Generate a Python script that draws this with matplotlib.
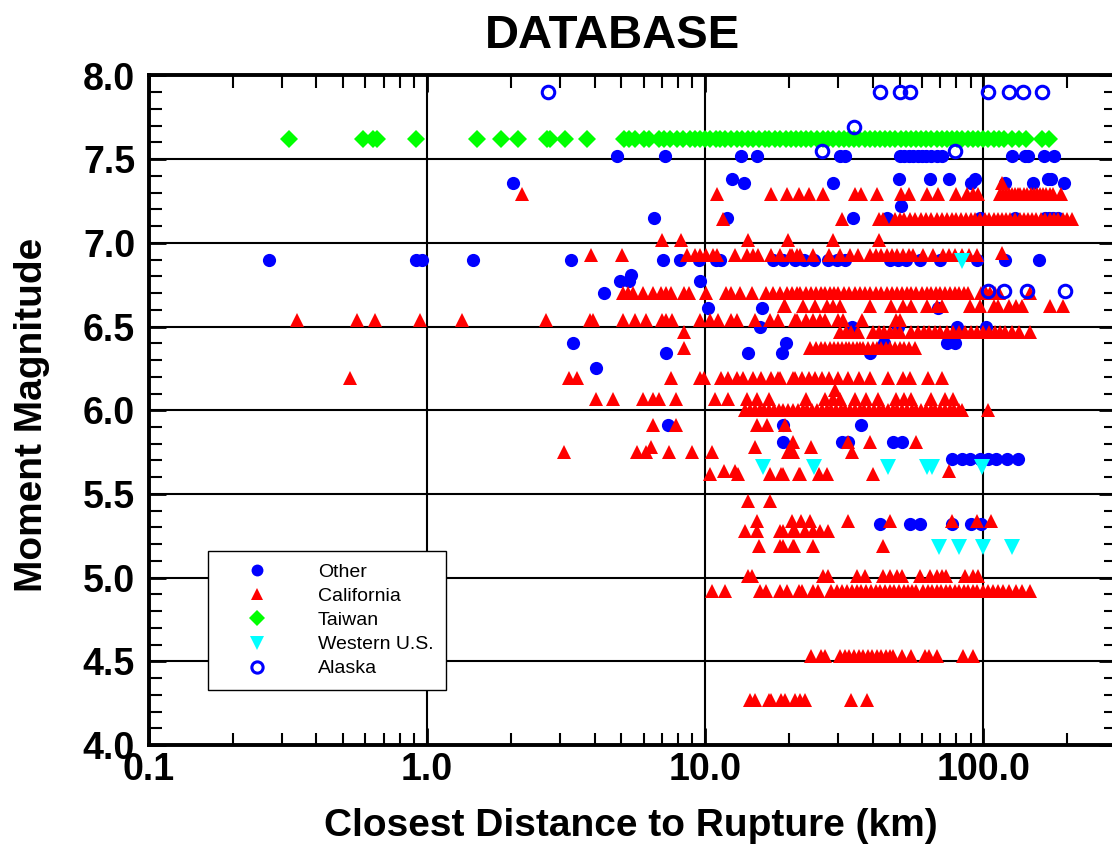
import matplotlib
matplotlib.use("Agg")
import matplotlib.pyplot as plt
from matplotlib.ticker import FixedLocator, FormatStrFormatter, MultipleLocator, LogLocator, NullFormatter

plt.rcParams['font.family'] = ['Liberation Sans', 'DejaVu Sans']

# ---- data (distance km, moment magnitude) ----
# Other
other_mags = [7.52, 7.38, 7.36, 7.22, 7.15, 6.90, 6.81, 6.77, 6.70, 6.61, 6.50, 6.40, 6.34, 6.25, 5.91, 5.81, 5.71, 5.32]
o_752 = [4.81, 7.18, 13.4, 15.3, 30.6, 31.9, 50, 52, 54, 56, 58, 60, 62, 65, 68, 71, 127, 141, 145, 165, 180]
o_738 = [12.5, 49.9, 64.2, 75.1, 93.6, 171, 175]
o_736 = [2.03, 13.8, 28.7, 90.5, 120, 150.6, 195]
o_722 = [50.6]
o_715 = [6.54, 12.0, 34.0, 45.1, 97.6, 130, 166, 172, 178, 185]
o_690 = [0.27, 0.91, 0.96, 1.46, 3.3, 7.05, 8.13, 9.46, 10.9, 11.3, 17.6, 19.1, 21.1, 22.6,
         24.7, 27.7, 29.8, 31.8, 46.2, 49.4, 52.8, 59.0, 70.0, 95.0, 120, 158]
o_681 = [5.43]
o_677 = [4.92, 5.3, 9.55]
o_670 = [4.34]
o_661 = [10.2, 16.0, 68.6]
o_650 = [15.7, 33.7, 49.4, 80.4, 102]
o_640 = [3.35, 19.5, 44.1, 73.8, 79.1]
o_634 = [7.24, 14.3, 18.9, 39.2]
o_625 = [4.04]
o_591 = [7.34, 19.1, 36.4]
o_581 = [19.0, 31.0, 32.7, 47.5, 51.1]
o_571 = [77.1, 83.5, 89.5, 97.6, 104, 111.4, 122, 133]
o_532 = [42.6, 54.6, 59.1, 77.1, 90.5, 98]
other_rows = [o_752, o_738, o_736, o_722, o_715, o_690, o_681, o_677, o_670, o_661,
              o_650, o_640, o_634, o_625, o_591, o_581, o_571, o_532]

# California
cal_mags = [7.36, 7.29, 7.14, 7.02, 6.94, 6.93, 6.70, 6.62, 6.54, 6.47, 6.37, 6.19, 6.12, 6.07,
            6.00, 5.91, 5.81, 5.78, 5.75, 5.64, 5.62, 5.46, 5.34, 5.28, 5.19, 5.01, 4.92, 4.53, 4.27]
c_736 = [117]
c_729 = [2.19, 11.0, 17.2, 19.7, 21.7, 23.7, 26.5, 34.5, 36.4, 41.3, 50.6, 54.1, 62.8, 68.8, 79.8,
         87.2, 92.1, 96.0, 115, 118, 121, 124, 127, 130, 133, 136, 140, 144, 148, 152, 156, 160,
         164, 168, 173, 178, 190]
c_714 = [11.6, 31.1, 42.1, 43.5, 48.1, 50, 52, 54.5, 57, 59.5, 62, 65, 68, 71, 74, 77, 80, 83,
         86.5, 90, 93.5, 97, 101, 105, 109, 113, 117, 121, 125, 130, 135, 140, 145, 150, 155, 161,
         167, 173, 179, 186, 193, 200, 208]
c_702 = [6.98, 8.18, 14.3, 19.9, 28.9, 42.1]
c_694 = [117]
c_693 = [3.88, 5.03, 8.58, 9.18, 9.58, 10.1, 10.7, 11.0, 12.8, 14.1, 14.9, 15.5, 17.3, 18.6, 20.2,
         20.5, 21.3, 21.9, 24.4, 27.9, 30.6, 33.2, 35.5, 39.2, 41, 43, 45, 47, 49, 51.5, 54, 56,
         60.7, 66.0, 71.6, 75, 79, 83.5, 88.7, 94.9]
c_670 = [5.08, 5.29, 5.51, 5.98, 6.49, 6.96, 7.25, 7.56, 8.37, 8.76, 10.1, 11.9, 12.4, 13.3, 14.7,
         16.6, 17.6, 18.6, 19.7, 20.5, 21.3, 22, 23, 24, 25, 26, 27, 28, 29, 30, 31.5, 33, 34.5,
         36, 37.5, 39, 41, 43, 45, 47, 49, 51, 53, 55, 57.5, 60, 62.5, 65, 67.5, 70, 73, 76, 79,
         82, 85, 88, 98, 102, 106, 110, 114, 147]
c_662 = [19.2, 19.4, 22.5, 24.8, 27.3, 28.9, 30.6, 39.0, 46.6, 51.3, 55.0, 62.7, 68.1, 70.9, 89.5,
         97.5, 109, 113, 124, 131, 138, 173, 194]
c_654 = [0.34, 0.56, 0.65, 0.94, 1.34, 2.68, 3.85, 3.96, 5.08, 5.6, 6.15, 6.98, 7.25, 7.6, 9.58,
         10.4, 11.1, 12.4, 13.0, 15.1, 17.1, 18.3, 21.0, 21.3, 23.1, 24.4, 25.9, 27.0, 30.1, 31.4,
         36.5, 48.6, 50.3]
c_647 = [8.4, 30.6, 32, 33.5, 35.5, 40, 42, 44, 46, 48, 50, 55, 58, 61, 64, 67, 70, 74, 78, 82,
         86, 90, 95, 100, 105, 110, 115, 120, 127, 134, 147]
c_637 = [8.4, 23.8, 25, 26, 27, 28, 29, 30, 31, 32, 33, 34, 35, 36, 37, 38.5, 40, 41.5, 43, 44.5,
         46, 48, 50, 52, 54, 57]
c_619 = [0.53, 3.25, 3.47, 7.53, 9.58, 9.9, 11.4, 12.1, 13.0, 13.7, 14.9, 15.9, 17.3, 18.3, 18.6,
         20.7, 21.1, 22.3, 23.6, 24.8, 26.2, 27.9, 30.1, 32.7, 35.8, 39.0, 45.3, 51.3, 54.5, 63.5,
         71.3]
c_612 = [29.3]
c_607 = [4.04, 4.67, 5.98, 6.49, 6.81, 7.84, 10.8, 12.1, 14.1, 15.4, 17.0, 23.1, 27.0, 28.9, 30.6,
         34.7, 38.0, 41.8, 48.6, 52.0, 55.0, 65.0, 72.7, 78.0]
c_600 = [13.9, 14.5, 15.1, 15.7, 16.3, 17.0, 17.7, 18.4, 19.1, 19.9, 20.7, 21.5, 22.4, 23.3, 24.2,
         25.2, 26.2, 27.3, 28.4, 29.5, 30.7, 31.9, 33.2, 34.5, 35.9, 37.3, 38.8, 40.4, 42.0, 43.7,
         45.4, 47.2, 49.1, 51.1, 53.1, 55.2, 57.4, 59.7, 62.1, 64.6, 67.2, 69.9, 72.7, 75.6, 78.6,
         81.7, 84, 104]
c_591 = [6.49, 7.84, 15.3, 16.7, 19.4]
c_581 = [20.7, 32.7, 39.1, 57.2]
c_578 = [6.41, 15.1, 24.1]
c_575 = [3.11, 5.67, 6.15, 7.42, 9.0, 10.6, 19.9, 20.2, 20.7, 33.7]
c_564 = [11.7, 12.8, 75.3]
c_562 = [10.4, 13.1, 17.1, 18.8, 19.0, 21.7, 21.9, 25.7, 27.5, 40.0]
c_546 = [14.3, 17.1]
c_534 = [15.3, 20.5, 22.1, 23.9, 32.7, 46.0, 77.1, 94.9, 106.5]
c_528 = [13.9, 15.3, 18.6, 19.0, 20.7, 21.1, 22.9, 24.4, 25.9, 27.7]
c_519 = [15.6, 18.6, 19.0, 20.7, 20.9, 24.4, 43.5]
c_501 = [14.3, 14.7, 26.5, 27.7, 35.0, 37.6, 43.7, 46.2, 48.8, 50.8, 59.2, 64.2, 67.9, 70.8, 73.7,
         85.7, 92.1, 96.0]
c_492 = [10.6, 11.8, 15.7, 16.6, 18.6, 19.7, 21.7, 22.3, 24.4, 25.4, 28.4, 29.7, 31, 32.3, 33.6,
         35, 36.4, 37.9, 39.4, 41, 42.6, 44.3, 46, 47.8, 49.7, 51.7, 53.7, 55.5, 57.3, 60.7, 63,
         65.5, 68, 70.6, 73.3, 76, 79, 82, 85, 88, 91.5, 95, 100, 104, 108, 112.5, 118, 124, 131,
         138, 147]
c_453 = [24.1, 26.1, 27.0, 30.6, 31.8, 33.0, 34.3, 35.6, 37.0, 38.4, 39.9, 41.4, 43.0, 44.6, 46.3,
         47.5, 50.8, 55.0, 61.9, 64.0, 67.9, 84.5, 91.9]
c_427 = [14.5, 15.1, 16.9, 17.3, 18.8, 19.4, 21.0, 21.9, 22.9, 33.4, 38.2]
cal_rows = [c_736, c_729, c_714, c_702, c_694, c_693, c_670, c_662, c_654, c_647, c_637, c_619,
            c_612, c_607, c_600, c_591, c_581, c_578, c_575, c_564, c_562, c_546, c_534, c_528,
            c_519, c_501, c_492, c_453, c_427]

# Taiwan (Chi-Chi)
taiwan_mag = 7.62
taiwan_r = [0.32, 0.59, 0.64, 0.66, 0.91, 1.51, 1.84, 2.12, 2.69, 2.76, 3.13, 3.75, 5.1, 5.3, 5.6,
            6.0, 6.3, 6.8, 7.1, 7.5, 7.9, 8.3, 8.8, 9.2, 9.6, 10.0, 10.4, 10.9, 11.3, 11.8, 12.4,
            13.0, 13.6, 14.2, 14.9, 15.6, 16.4, 17.0, 17.8, 18.6, 19.5, 20.3, 21.2, 22.1, 23.0,
            24.1, 25.3, 26.5, 27.7, 28.9, 30.2, 31.5, 32.9, 34.3, 35.8, 37.4, 39.0, 40.7, 42.5,
            44.4, 46.3, 48.3, 50.4, 52.6, 54.9, 57.3, 59.8, 62.4, 65.1, 68.0, 71.0, 74.1, 77.3,
            80.6, 84.1, 87.8, 91.6, 95.6, 99.8, 104, 109, 114, 119, 127, 134, 142, 163, 172]

# Western U.S.
west_r = [83.8, 16.1, 24.6, 45.6, 62.8, 65.2, 99, 69.1, 81.9, 99.5, 127]
west_m = [6.89, 5.66, 5.66, 5.66, 5.66, 5.66, 5.66, 5.18, 5.18, 5.18, 5.18]

# Alaska
alaska_r = [2.72, 42.6, 50.2, 54.5, 103.6, 124, 139, 163, 34.4, 26.3, 79.1, 103.6, 119, 144, 197]
alaska_m = [7.90, 7.90, 7.90, 7.90, 7.90, 7.90, 7.90, 7.90, 7.69, 7.55, 7.55, 6.71, 6.71, 6.71, 6.71]

x_ticks = [0.1, 1.0, 10.0, 100.0]
y_ticks = [4.0, 4.5, 5.0, 5.5, 6.0, 6.5, 7.0, 7.5, 8.0]


def flatten(mags, rows):
    r, m = [], []
    for mag, row in zip(mags, rows):
        r += row
        m += [mag] * len(row)
    return r, m


other_r, other_m = flatten(other_mags, other_rows)
cal_r, cal_m = flatten(cal_mags, cal_rows)

fig = plt.figure(figsize=(11.12, 8.46), dpi=100)
ax = fig.add_axes([149 / 1112, 101 / 846, 967 / 1112, 669.5 / 846])

ax.plot(other_r, other_m, 'o', color='#0000ff', ms=9.5, mew=0, label='Other')
ax.plot(cal_r, cal_m, '^', color='#ff0000', ms=10, mew=0, label='California')
ax.plot(taiwan_r, [taiwan_mag] * len(taiwan_r), 'D', color='#00ff00', ms=9, mew=0, label='Taiwan')
ax.plot(west_r, west_m, 'v', color='#00ffff', ms=11, mew=0, label='Western U.S.')
ax.plot(alaska_r, alaska_m, 'o', mfc='none', mec='#0000ff', ms=9, mew=2.2, label='Alaska')

ax.set_xscale('log')
ax.set_xlim(0.1, 300)
ax.set_ylim(4.0, 8.0)

ax.xaxis.set_major_locator(FixedLocator(x_ticks))
ax.xaxis.set_major_formatter(FormatStrFormatter('%.1f'))
ax.xaxis.set_minor_locator(LogLocator(base=10, subs=[2, 3, 4, 5, 6, 7, 8, 9]))
ax.xaxis.set_minor_formatter(NullFormatter())
ax.yaxis.set_major_locator(FixedLocator(y_ticks))
ax.yaxis.set_major_formatter(FormatStrFormatter('%.1f'))
ax.yaxis.set_minor_locator(MultipleLocator(0.1))

ax.grid(True, which='major', color='black', lw=1.5)
ax.tick_params(which='both', direction='in', top=True, right=True, color='black')
ax.tick_params(which='major', length=12, width=2, labelsize=27)
ax.tick_params(which='minor', length=9, width=1.5)
ax.tick_params(axis='y', which='major', pad=10)
ax.tick_params(axis='x', which='major', pad=5)
for lab in ax.get_xticklabels() + ax.get_yticklabels():
    lab.set_fontweight('bold')
for sp in ax.spines.values():
    sp.set_linewidth(2.8)

fig.text(613 / 1112, 1 - 48 / 846, 'DATABASE', fontsize=34, fontweight='bold', ha='center', va='baseline')
fig.text(631 / 1112, 1 - 836 / 846, 'Closest Distance to Rupture (km)', fontsize=28,
         fontweight='bold', ha='center', va='baseline')
fig.text(42 / 1112, 1 - 415 / 846, 'Moment Magnitude', fontsize=28, fontweight='bold',
         rotation=90, rotation_mode='anchor', ha='center', va='baseline')

leg = ax.legend(loc='upper left', bbox_to_anchor=(208 / 1112, 1 - 551 / 846),
                bbox_transform=fig.transFigure, borderaxespad=0, fontsize=14,
                frameon=True, fancybox=False, framealpha=1, edgecolor='black',
                borderpad=0.65, handlelength=3.74, handletextpad=1.27, labelspacing=0.33,
                markerscale=0.9)
leg.get_frame().set_linewidth(1.0)

fig.savefig('out.png', dpi=100)
